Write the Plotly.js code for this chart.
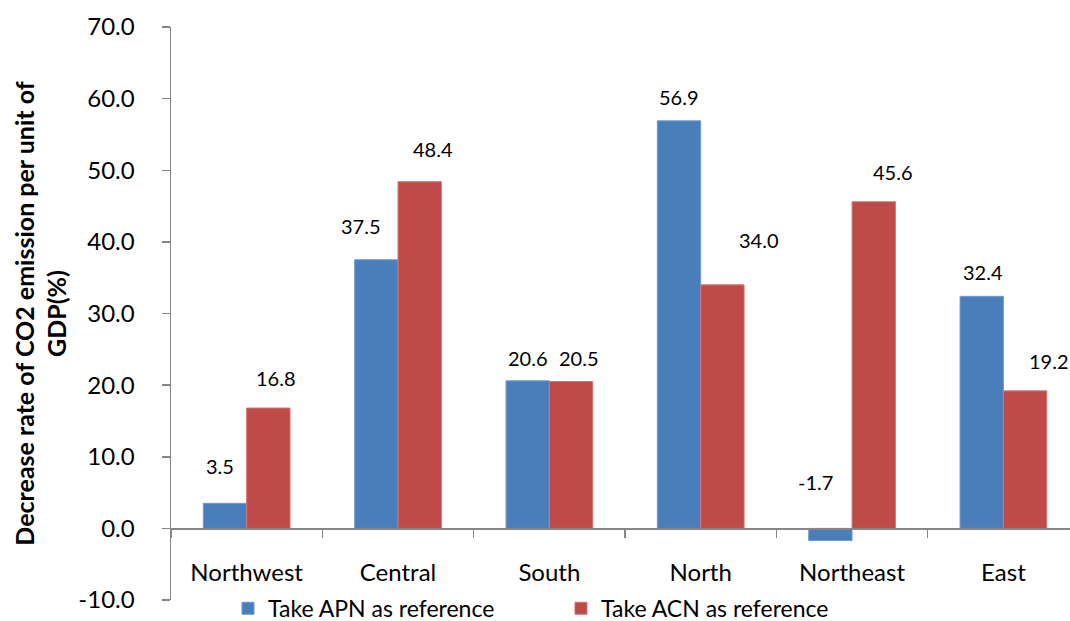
<!DOCTYPE html>
<html>
<head>
<meta charset="utf-8">
<script src="https://cdn.plot.ly/plotly-3.0.1.min.js"></script>
<style>
  html, body { margin: 0; padding: 0; background: #fff; overflow: hidden; }
  #chart { width: 1070px; height: 621px; }
</style>
</head>
<body>
<div id="chart"></div>
<script>
// ---- data ----
const categories = ["Northwest", "Central", "South", "North", "Northeast", "East"];
const apnValues = [3.5, 37.5, 20.6, 56.9, -1.7, 32.4];
const acnValues = [16.8, 48.4, 20.5, 34.0, 45.6, 19.2];
const seriesNames = ["Take APN as reference", "Take ACN as reference"];
const yTickValues = [-10, 0, 10, 20, 30, 40, 50, 60, 70];
const yTickLabels = ["-10.0", "0.0", "10.0", "20.0", "30.0", "40.0", "50.0", "60.0", "70.0"];

// ---- label placement (pixel offsets from the top of each bar) ----
const apnLabelDx = [-5, -15, 0, 0, -15, 1];
const apnLabelDy = [37, 34, 23, 24, 59, 24];
const acnLabelDx = [8, 13, 8, 37, 19, 24];
const acnLabelDy = [30, 33, 24, 45, 30, 30];

const blue = "#4A7EBB";
const red = "#BE4B48";
const axisGray = "#868686";
const font = "Lato, 'Open Sans', sans-serif";
const barHalf = 21.7;

const traces = [
  { type: "bar", name: seriesNames[0], x: categories, y: apnValues,
    marker: { color: blue, line: { color: "#6E9BD2", width: 1 } }, hoverinfo: "x+y" },
  { type: "bar", name: seriesNames[1], x: categories, y: acnValues,
    marker: { color: red, line: { color: "#D27572", width: 1 } }, hoverinfo: "x+y" }
];

const annotations = [];
categories.forEach((c, i) => {
  annotations.push({ x: c, y: apnValues[i], xref: "x", yref: "y", text: apnValues[i].toFixed(1),
    showarrow: false, xshift: -barHalf + apnLabelDx[i], yshift: apnLabelDy[i],
    xanchor: "center", yanchor: "middle", font: { family: font, size: 20, color: "#000" } });
  annotations.push({ x: c, y: acnValues[i], xref: "x", yref: "y", text: acnValues[i].toFixed(1),
    showarrow: false, xshift: barHalf + acnLabelDx[i], yshift: acnLabelDy[i],
    xanchor: "center", yanchor: "middle", font: { family: font, size: 20, color: "#000" } });
});

const layout = {
  width: 1070, height: 621,
  margin: { l: 171, r: 0, t: 27, b: 21, pad: 0, autoexpand: false },
  paper_bgcolor: "#fff", plot_bgcolor: "#fff",
  barmode: "group", bargap: 0.427, bargroupgap: 0,
  font: { family: font, color: "#000" },
  showlegend: true,
  legend: {
    orientation: "h", xref: "paper", yref: "paper",
    x: 0.0634, y: -0.0145, xanchor: "left", yanchor: "middle",
    font: { family: font, size: 23, color: "#000" },
    entrywidth: 288, entrywidthmode: "pixels",
    bgcolor: "rgba(0,0,0,0)", traceorder: "normal"
  },
  xaxis: {
    type: "category", range: [-0.5, 5.44],
    anchor: "free", position: 0.125,
    showline: true, linecolor: axisGray, linewidth: 1.5,
    ticks: "outside", tickson: "boundaries", ticklen: 8, tickcolor: axisGray, tickwidth: 1.5,
    ticklabelstandoff: 22,
    tickfont: { family: font, size: 24, color: "#000" },
    showgrid: false, zeroline: false, fixedrange: true
  },
  yaxis: {
    range: [-10, 70], tickvals: yTickValues, ticktext: yTickLabels,
    showline: true, linecolor: axisGray, linewidth: 1.5,
    ticks: "outside", ticklen: 8, tickcolor: axisGray, tickwidth: 1.5,
    ticklabelstandoff: 22,
    tickfont: { family: font, size: 24, color: "#000" },
    showgrid: false, zeroline: false, fixedrange: true,
    title: { text: "<b>Decrease rate of CO2 emission per unit of<br>GDP(%)</b>",
      font: { family: font, size: 25, color: "#000" }, standoff: 4 }
  },
  annotations: annotations
};

Plotly.newPlot("chart", traces, layout, { displayModeBar: false, staticPlot: true });
</script>
</body>
</html>
